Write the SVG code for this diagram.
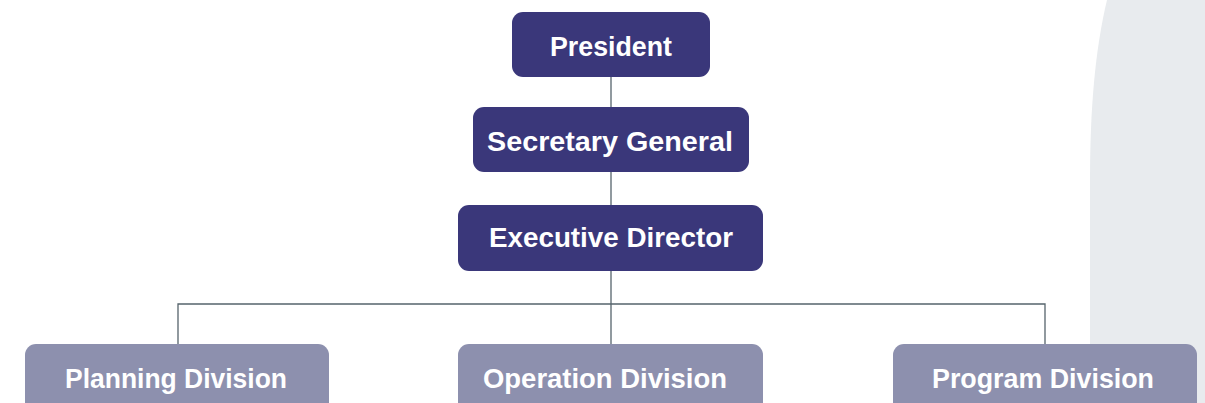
<svg xmlns="http://www.w3.org/2000/svg" width="1205" height="403" viewBox="0 0 1205 403">
<style>
.top rect{fill:#3A377A;}
.div rect{fill:#8D90AE;}
text{font-family:"Liberation Sans","Arial",sans-serif;font-weight:bold;font-size:27px;fill:#FFFFFF;text-anchor:middle;}
.conn{stroke:#56646C;stroke-width:1.3;fill:none;}
</style>
<rect width="1205" height="403" fill="#FFFFFF"/>
<path d="M1107,0 C1095,50 1090,110 1090,180 L1090,403 L1205,403 L1205,0 Z" fill="#E8EBEE"/>
<g id="connectors">
<line class="conn" x1="611" y1="77" x2="611" y2="107"/>
<line class="conn" x1="611" y1="172" x2="611" y2="205"/>
<line class="conn" x1="611" y1="271" x2="611" y2="344"/>
<polyline class="conn" points="178,344 178,304 1045,304 1045,344"/>
</g>
<g id="president" class="top"><rect x="512" y="12" width="198" height="65" rx="11"/><text x="611" y="56" textLength="122" lengthAdjust="spacingAndGlyphs">President</text></g>
<g id="secretary-general" class="top"><rect x="473" y="107" width="276" height="65" rx="11"/><text x="610" y="151" textLength="246" lengthAdjust="spacingAndGlyphs">Secretary General</text></g>
<g id="executive-director" class="top"><rect x="458" y="205" width="305" height="66" rx="11"/><text x="611" y="247" textLength="244" lengthAdjust="spacingAndGlyphs">Executive Director</text></g>
<g id="planning-division" class="div"><rect x="25" y="344" width="304" height="75" rx="11"/><text x="176" y="388" textLength="222" lengthAdjust="spacingAndGlyphs">Planning Division</text></g>
<g id="operation-division" class="div"><rect x="458" y="344" width="305" height="75" rx="11"/><text x="605" y="388" textLength="244" lengthAdjust="spacingAndGlyphs">Operation Division</text></g>
<g id="program-division" class="div"><rect x="893" y="344" width="304" height="75" rx="11"/><text x="1043" y="388" textLength="222" lengthAdjust="spacingAndGlyphs">Program Division</text></g>
</svg>
